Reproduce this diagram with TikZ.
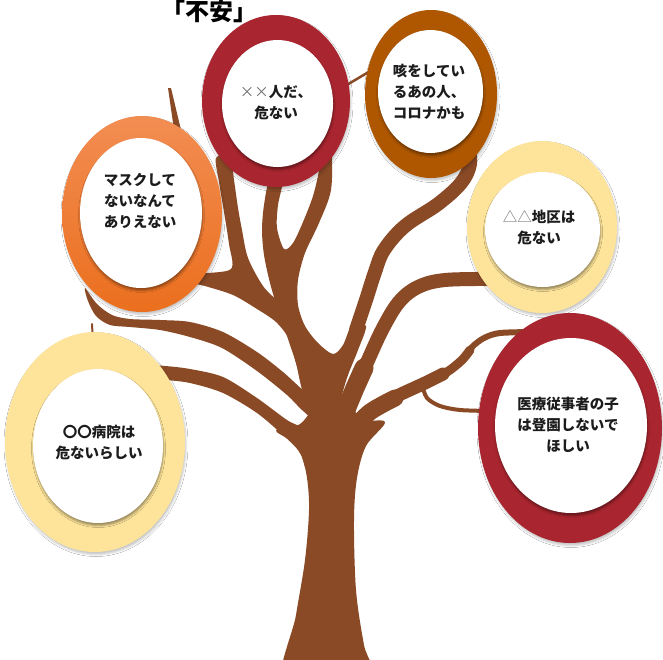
\documentclass[tikz,border=0pt]{standalone}
\usepackage{fontspec}
\newfontfamily\jp{Noto Sans CJK JP}
\usetikzlibrary{shapes.geometric,shadows.blur}

\definecolor{bark}{HTML}{8A4A26}
\definecolor{ringred}{HTML}{A9252F}
\definecolor{ringrust}{HTML}{AE5700}
\definecolor{ringorangetop}{HTML}{F28D52}
\definecolor{ringorangebot}{HTML}{EB6F1E}
\definecolor{ringsand}{HTML}{FDE49A}
\definecolor{ink}{HTML}{1C1C1C}
\definecolor{symgray}{HTML}{6E6E6E}

\tikzset{
  ring/.style={ellipse, inner sep=0pt, draw=none,
    blur shadow={shadow xshift=1pt, shadow yshift=-2.5pt, shadow blur radius=2pt, shadow opacity=22}},
  core/.style={ellipse, inner sep=0pt, fill=white,
    blur shadow={shadow xshift=0.5pt, shadow yshift=-2.5pt, shadow blur radius=2pt, shadow opacity=40}},
  words/.style={font=\jp\bfseries\fontsize{14.5}{21}\selectfont, text=ink, align=center, inner sep=0pt},
  limb/.style={fill=bark},
  twig/.style={draw=bark, line cap=round, line join=round},
}

\begin{document}
\begin{tikzpicture}[x=1pt, y=-1pt]
\fill[white] (0,0) rectangle (663,659);
\useasboundingbox (0,0) rectangle (663,659);

% ---- the tree ----
% trunk
\fill[limb] plot[smooth cycle, tension=0.55] coordinates {(284,690) (296,615) (305,560) (309,510) (307,478) (301,455) (289,440) (276,430) (300,424) (318,402) (336,392) (352,402) (360,420) (385,422) (366,446) (357,478) (354,520) (356,590) (364,645) (374,690)};
% main left stem with the two stems under the top red circle
\fill[limb] plot[smooth cycle, tension=0.5] coordinates {(318,432) (307,400) (297,366) (287,336) (278,310) (270,283) (264,255) (262,230) (264,205) (270,178) (283,178) (278,205) (277,228) (284,249) (293,243) (303,222) (313,196) (319,170) (320,150) (331,148) (331,190) (319,223) (305,253) (298,280) (298,305) (305,326) (318,343) (333,354) (343,345) (352,325) (366,326) (358,350) (348,375) (342,395) (335,425)};
% branch rising to the orange circle, with its short side stub
\fill[limb] plot[smooth cycle, tension=0.5] coordinates {(216,158) (230,156) (234,180) (238,208) (242,230) (248,258) (263,286) (280,304) (293,325) (303,352) (310,385) (303,392) (296,363) (289,339) (276,322) (257,309) (233,295) (205,286) (190,282) (200,274) (231,269) (229,244) (224,212) (219,182)};
% long left branch
\fill[limb] plot[smooth cycle, tension=0.5] coordinates {(85,288) (97,304) (112,315) (130,319) (160,320) (190,322) (223,332) (257,352) (283,372) (303,390) (318,400) (316,420) (302,410) (287,395) (257,371) (222,348) (190,337) (160,330) (130,327) (110,325) (96,316) (88,301)};
% lower left branch
\fill[limb] plot[smooth cycle, tension=0.5] coordinates {(150,366) (165,366) (190,369) (223,377) (257,398) (287,420) (305,430) (312,450) (306,468) (300,452) (284,436) (257,413) (223,393) (190,383) (165,380) (150,380)};
% branch to the rust circle
\draw[twig, line width=14] plot[smooth, tension=0.6] coordinates {(356,330) (366,300) (375,272) (384,250) (405,226) (438,204) (461,183) (470,164) (468,145)};
% branch to the right sand circle
\draw[twig, line width=19] plot[smooth] coordinates {(345,412) (355,388) (364,368)};
\draw[twig, line width=14] plot[smooth, tension=0.6] coordinates {(347,410) (357,385) (369,358) (383,328) (399,302) (418,287) (445,280) (495,279)};
% branch to the lower red circle
\draw[twig, line width=6] plot[smooth] coordinates {(350,430) (370,412) (395,397) (425,383) (447,372) (462,360) (472,347) (484,338) (500,333) (535,332)};
\draw[twig, line width=9] plot[smooth] coordinates {(350,430) (370,412) (395,397) (425,383) (447,372) (462,360) (470,350)};
\draw[twig, line width=13] plot[smooth] coordinates {(350,430) (370,412) (395,397) (425,383) (443,374)};
\draw[twig, line width=17] plot[smooth] coordinates {(350,432) (370,412) (395,398)};
\draw[twig, line width=4] plot[smooth] coordinates {(422,385) (427,398) (440,406) (460,410) (490,411)};
% thin twigs
\draw[twig, line width=2.5] (340,89) -- (372,70);
\fill[limb] (168,88) -- (171,88) -- (181,130) -- (174,130) -- cycle;
\draw[twig, line width=2] (92,324) -- (93,342);

% ---- circles ----
\node[ring, fill=ringred, minimum width=148, minimum height=172] (ring1) at (276,101) {};
\node[ring, fill=ringrust, minimum width=132, minimum height=168] (ring2) at (431,94) {};
\node[ring, top color=ringorangetop, bottom color=ringorangebot, minimum width=160, minimum height=196] (ring3) at (142,214) {};
\node[ring, fill=ringsand, minimum width=150, minimum height=172] (ring4) at (542,227) {};
\node[ring, fill=ringsand, minimum width=180, minimum height=220] (ring5) at (95,442) {};
\node[ring, fill=ringred, minimum width=184, minimum height=230] (ring6) at (570,428) {};

\node[core, minimum width=111, minimum height=127] (core1) at (277.5,103.5) {};
\node[core, minimum width=105, minimum height=123] (core2) at (430.5,91.5) {};
\node[core, minimum width=122, minimum height=150] (core3) at (141,213) {};
\node[core, minimum width=115, minimum height=115] (core4) at (542.5,229.5) {};
\node[core, minimum width=130, minimum height=154] (core5) at (98,446) {};
\node[core, minimum width=152, minimum height=175] (core6) at (571,425.5) {};

% ---- texts ----
\node[words] (txt1) at (276,102.5) {{\color{symgray}\mdseries ××}人だ、\\危ない};
\node[words] (txt2) at (429,92) {咳をしてい\\るあの人、\\コロナかも};
\node[words] (txt3) at (140,201) {マスクして\\ないなんて\\ありえない};
\node[words] (txt4) at (539,227.5) {{\color{symgray}\mdseries △△}地区は\\危ない};
\node[words] (txt5) at (99,443) {〇〇病院は\\危ないらしい};
\node[words] (txt6) at (568,425) {医療従事者の子\\は登園しないで\\ほしい};
\node[font=\jp\bfseries\fontsize{24}{24}\selectfont, text=black, inner sep=0pt, anchor=base] (title) at (209,20) {「不安」};
\end{tikzpicture}
\end{document}
